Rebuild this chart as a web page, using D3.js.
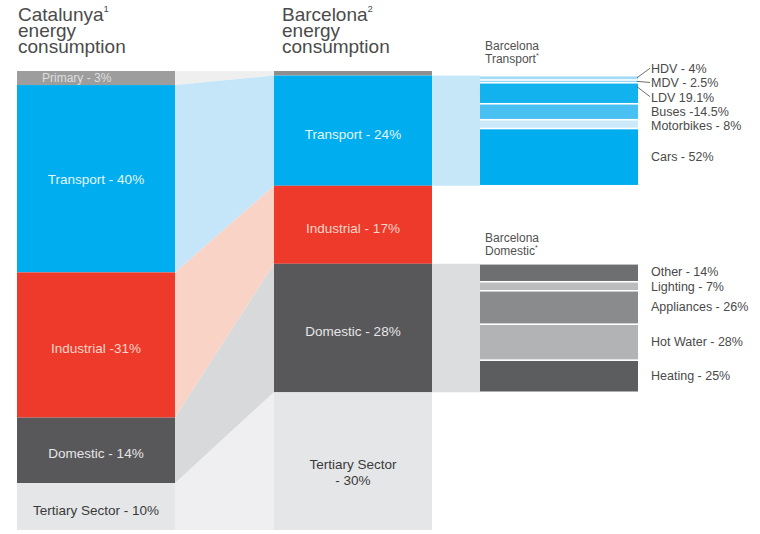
<!DOCTYPE html>
<html>
<head>
<meta charset="utf-8">
<script src="https://cdn.jsdelivr.net/npm/d3@7"></script>
<style>
  html, body { margin: 0; padding: 0; background: #fff; }
  svg { display: block; font-family: "Liberation Sans", Arial, Helvetica, sans-serif; }
</style>
</head>
<body>
<svg id="chart" width="760" height="534"></svg>
<script>
// Energy consumption by sector (% of total)
const sectors = ["Primary", "Transport", "Industrial", "Domestic", "Tertiary Sector"];
const catalunyaShares = [3, 40, 31, 14, 10];
const barcelonaShares = [1, 24, 17, 28, 30];
const catalunyaLabels = ["Primary - 3%", "Transport - 40%", "Industrial -31%", "Domestic - 14%", "Tertiary Sector - 10%"];
const barcelonaLabels = [[], ["Transport - 24%"], ["Industrial - 17%"], ["Domestic - 28%"], ["Tertiary Sector", "- 30%"]];

// Barcelona transport by vehicle type (%)
const transportModes = ["HDV", "MDV", "LDV", "Buses", "Motorbikes", "Cars"];
const transportShares = [4, 2.5, 19.1, 14.5, 8, 52];
const transportLabels = ["HDV - 4%", "MDV - 2.5%", "LDV 19.1%", "Buses -14.5%", "Motorbikes - 8%", "Cars - 52%"];
const transportLeaders = ["HDV", "MDV", "LDV"];

// Barcelona domestic by end use (%)
const domesticUses = ["Other", "Lighting", "Appliances", "Hot Water", "Heating"];
const domesticShares = [14, 7, 26, 28, 25];
const domesticLabels = ["Other - 14%", "Lighting - 7%", "Appliances - 26%", "Hot Water - 28%", "Heating - 25%"];

// ---- layout ----
const TOP = 71, BOTTOM = 530;
const colCat = { x0: 17, x1: 175 };
const colBcn = { x0: 274, x1: 432 };
const colDet = { x0: 480, x1: 638 };
const labelX = 651;

const svg = d3.select("#chart");

const sectorColor = d3.scaleOrdinal(sectors, ["#9d9d9d", "#00aeef", "#ee3a2b", "#58585a", "#e5e6e8"]);
const sectorBcnColor = d3.scaleOrdinal(sectors, ["#8e8e8e", "#00aeef", "#ee3a2b", "#58585a", "#e5e6e8"]);
const linkColor = d3.scaleOrdinal(sectors, ["#efefef", "#c4e6f8", "#fad3c7", "#d7d9db", "#efeff1"]);
const textColor = d3.scaleOrdinal(sectors, ["#dedede", "#e3f5fd", "#fcd6c9", "#e6e6e6", "#3a3a3a"]);
const transportColor = d3.scaleOrdinal(transportModes, ["#a3dbf5", "#8ed3f3", "#12b2ee", "#48c0f1", "#cbe9f8", "#00aeef"]);
const domesticColor = d3.scaleOrdinal(domesticUses, ["#6e6f71", "#bbbcbe", "#8a8b8d", "#b2b3b5", "#5c5d5f"]);

function stack(keys, values) {
  const ends = d3.cumsum(values);
  return keys.map((k, i) => ({ key: k, i, v: values[i], s0: ends[i] - values[i], s1: ends[i] }));
}

const catStack = stack(sectors, catalunyaShares);
const bcnStack = stack(sectors, barcelonaShares);
const trStack = stack(transportModes, transportShares);
const doStack = stack(domesticUses, domesticShares);

const yCat = d3.scaleLinear([0, d3.sum(catalunyaShares)], [TOP, BOTTOM]);
const yBcn = d3.scaleLinear([0, d3.sum(barcelonaShares)], [TOP, BOTTOM]);
const bcnTransport = bcnStack[sectors.indexOf("Transport")];
const bcnDomestic = bcnStack[sectors.indexOf("Domestic")];
const yTr = d3.scaleLinear([0, d3.sum(transportShares)], [yBcn(bcnTransport.s0), yBcn(bcnTransport.s1)]);
const yDo = d3.scaleLinear([0, d3.sum(domesticShares)], [yBcn(bcnDomestic.s0), yBcn(bcnDomestic.s1)]);

// ---- links between columns ----
const links = svg.append("g");
links.selectAll("path.sector")
  .data(sectors)
  .join("path")
  .attr("class", "sector")
  .attr("fill", d => linkColor(d))
  .attr("d", (d, i) => {
    const a = catStack[i], b = bcnStack[i];
    return `M${colCat.x1},${yCat(a.s0)}L${colBcn.x0},${yBcn(b.s0)}L${colBcn.x0},${yBcn(b.s1)}L${colCat.x1},${yCat(a.s1)}Z`;
  });

links.append("rect")
  .attr("x", colBcn.x1).attr("width", colDet.x0 - colBcn.x1)
  .attr("y", yBcn(bcnTransport.s0)).attr("height", yBcn(bcnTransport.s1) - yBcn(bcnTransport.s0))
  .attr("fill", "#c6e7f8");
links.append("rect")
  .attr("x", colBcn.x1).attr("width", colDet.x0 - colBcn.x1)
  .attr("y", yBcn(bcnDomestic.s0)).attr("height", yBcn(bcnDomestic.s1) - yBcn(bcnDomestic.s0))
  .attr("fill", "#dcdddf");

// ---- sector columns ----
function drawColumn(data, y, col, color) {
  svg.append("g").selectAll("rect")
    .data(data)
    .join("rect")
    .attr("x", col.x0)
    .attr("width", col.x1 - col.x0)
    .attr("y", d => y(d.s0))
    .attr("height", d => y(d.s1) - y(d.s0))
    .attr("fill", d => color(d.key));
}
drawColumn(catStack, yCat, colCat, sectorColor);
drawColumn(bcnStack, yBcn, colBcn, sectorBcnColor);

// labels inside the Catalunya column
svg.append("g").selectAll("text")
  .data(catStack)
  .join("text")
  .attr("x", d => d.key === "Primary" ? colCat.x0 + 25 : (colCat.x0 + colCat.x1) / 2)
  .attr("text-anchor", d => d.key === "Primary" ? "start" : "middle")
  .attr("y", d => (yCat(d.s0) + yCat(d.s1)) / 2 + (d.key === "Primary" ? 4 : d.key === "Transport" ? 5 : 8))
  .attr("font-size", d => d.key === "Primary" ? 12 : 13.5)
  .attr("fill", d => textColor(d.key))
  .text((d, i) => catalunyaLabels[i]);

// labels inside the Barcelona column
const bcnText = svg.append("g").selectAll("text")
  .data(bcnStack.filter(d => barcelonaLabels[d.i].length))
  .join("text")
  .attr("text-anchor", "middle")
  .attr("font-size", 13.5)
  .attr("fill", d => textColor(d.key))
  .attr("y", d => (yBcn(d.s0) + yBcn(d.s1)) / 2 + 8);
bcnText.selectAll("tspan")
  .data(d => barcelonaLabels[d.i])
  .join("tspan")
  .attr("x", (colBcn.x0 + colBcn.x1) / 2)
  .attr("dy", (d, i) => i === 0 ? 0 : 15.5)
  .text(d => d);

// ---- breakdown columns ----
function drawBreakdown(data, y, color) {
  svg.append("g").selectAll("rect")
    .data(data)
    .join("rect")
    .attr("x", colDet.x0)
    .attr("width", colDet.x1 - colDet.x0)
    .attr("y", d => y(d.s0) + 0.8)
    .attr("height", d => Math.max(0.8, y(d.s1) - y(d.s0) - 1.6))
    .attr("fill", d => color(d.key));
}
drawBreakdown(trStack, yTr, transportColor);
drawBreakdown(doStack, yDo, domesticColor);

// spread label positions so neighbouring labels keep a minimum gap
function spread(centers, gap) {
  const p = centers.slice();
  for (let it = 0; it < 400; it++) {
    for (let i = 0; i < p.length - 1; i++) {
      const d = p[i + 1] - p[i];
      if (d < gap) {
        const push = (gap - d) / 2;
        p[i] -= push; p[i + 1] += push;
      }
    }
  }
  return p;
}

function drawBreakdownLabels(data, y, labels, leaders) {
  const centers = data.map(d => (y(d.s0) + y(d.s1)) / 2);
  const pos = spread(centers, 14.2);
  const g = svg.append("g");
  g.selectAll("path")
    .data(data.filter(d => leaders.includes(d.key)))
    .join("path")
    .attr("fill", "none")
    .attr("stroke", "#4a4a4a")
    .attr("stroke-width", 0.8)
    .attr("d", d => {
      const y0 = Math.min(centers[d.i], y(d.s0) + 4);
      return `M${colDet.x1 - 1},${y0}L${labelX - 1},${pos[d.i] - 1}`;
    });
  g.selectAll("text")
    .data(data)
    .join("text")
    .attr("x", labelX)
    .attr("y", d => pos[d.i] + 4)
    .attr("font-size", 12.5)
    .attr("fill", "#4a4a4a")
    .text(d => labels[d.i]);
}
drawBreakdownLabels(trStack, yTr, transportLabels, transportLeaders);
drawBreakdownLabels(doStack, yDo, domesticLabels, []);

// ---- headings ----
function heading(x, y, lines, sup, size, lead, fill) {
  const g = svg.append("g").attr("font-size", size).attr("fill", fill);
  lines.forEach((line, i) => {
    const t = g.append("text").attr("x", x).attr("y", y + i * lead);
    t.append("tspan").text(line);
    if (i === 0 && sup) {
      t.append("tspan").attr("font-size", size * 0.5).attr("dy", -size * 0.45).text(sup);
    }
  });
}
heading(18, 21, ["Catalunya", "energy", "consumption"], "1", 19, 16, "#4b4b4b");
heading(282, 21, ["Barcelona", "energy", "consumption"], "2", 19, 16, "#4b4b4b");

function subHeading(x, y, l1, l2, size, fill) {
  const g = svg.append("g").attr("font-size", size).attr("fill", fill);
  g.append("text").attr("x", x).attr("y", y).text(l1);
  const t = g.append("text").attr("x", x).attr("y", y + 13);
  t.append("tspan").text(l2);
  t.append("tspan").attr("font-size", size * 0.6).attr("dy", -5).text("*");
}
subHeading(485, 50, "Barcelona", "Transport", 12, "#505050");
subHeading(485, 242, "Barcelona", "Domestic", 12, "#505050");
</script>
</body>
</html>
